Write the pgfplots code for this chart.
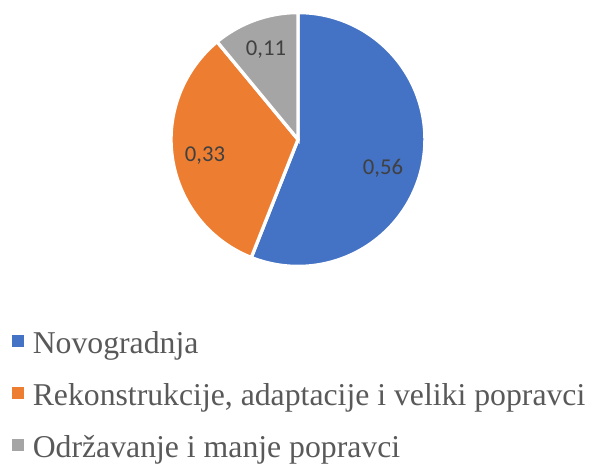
\documentclass[border=0pt]{standalone}
\usepackage{pgfplots}
\usepackage{pgfplotstable}
\pgfplotsset{compat=1.18}
\usepackage{fontspec}
\setmainfont{Liberation Serif}
\newfontfamily\carlito{Carlito}

\definecolor{pieblue}{HTML}{4472C4}
\definecolor{pieorange}{HTML}{ED7D31}
\definecolor{piegray}{HTML}{A5A5A5}
\definecolor{lbltext}{HTML}{404040}
\definecolor{legtext}{HTML}{595959}

% shares of the three categories
\pgfplotstableread{
value
0.56
0.33
0.11
}\piedata

\tikzset{pielbl/.style={font=\carlito\fontsize{17}{20}\selectfont, text=lbltext}}

\begin{document}
\begin{tikzpicture}
\pgfplotstablegetelem{0}{value}\of\piedata \let\va\pgfplotsretval
\pgfplotstablegetelem{1}{value}\of\piedata \let\vb\pgfplotsretval
\pgfplotstablegetelem{2}{value}\of\piedata \let\vc\pgfplotsretval
\pgfmathsetmacro\aone{90-360*\va}
\pgfmathsetmacro\atwo{\aone-360*\vb}
\pgfmathsetmacro\athree{\atwo-360*\vc}
\def\R{95.2pt}% radius, 127px
\pgfkeys{/pgf/number format/.cd, fixed, precision=2, use comma, assume math mode=true}
\begin{axis}[
  scale only axis, width=444.75pt, height=345.75pt,
  xmin=0, xmax=593, ymin=0, ymax=461,
  hide axis, clip=false,
  legend style={at={(0.0202,0.2834)}, anchor=north west, draw=none, fill=none,
    inner sep=0pt, row sep=16pt, column sep=7pt,
    font=\fontsize{23.8}{28}\selectfont\color{legtext},
    nodes={inner sep=0pt, text height=17pt, text depth=6pt}},
  legend cell align=left,
]
\path (axis cs:0,0) rectangle (axis cs:593,461);
\fill[pieblue, draw=white, line width=2.5pt] (axis cs:298,321.5) -- ++(90:\R)
  arc[start angle=90, end angle=\aone, radius=\R] -- cycle;
\fill[pieorange, draw=white, line width=2.5pt] (axis cs:298,321.5) -- ++(\aone:\R)
  arc[start angle=\aone, end angle=\atwo, radius=\R] -- cycle;
\fill[piegray, draw=white, line width=2.5pt] (axis cs:298,321.5) -- ++(\atwo:\R)
  arc[start angle=\atwo, end angle=\athree, radius=\R] -- cycle;
\node[pielbl] at (axis cs:383,293) {\pgfmathprintnumber{\va}};
\node[pielbl] at (axis cs:205,305) {\pgfmathprintnumber{\vb}};
\node[pielbl] at (axis cs:266,411) {\pgfmathprintnumber{\vc}};
\addlegendimage{legend image code/.code={\fill[pieblue] (0pt,0pt) rectangle ++(8pt,8pt);}}
\addlegendimage{legend image code/.code={\fill[pieorange] (0pt,0pt) rectangle ++(8pt,8pt);}}
\addlegendimage{legend image code/.code={\fill[piegray] (0pt,0pt) rectangle ++(8pt,8pt);}}
\legend{Novogradnja, {Rekonstrukcije, adaptacije i veliki popravci}, Održavanje i manje popravci}
\end{axis}
\end{tikzpicture}
\end{document}
